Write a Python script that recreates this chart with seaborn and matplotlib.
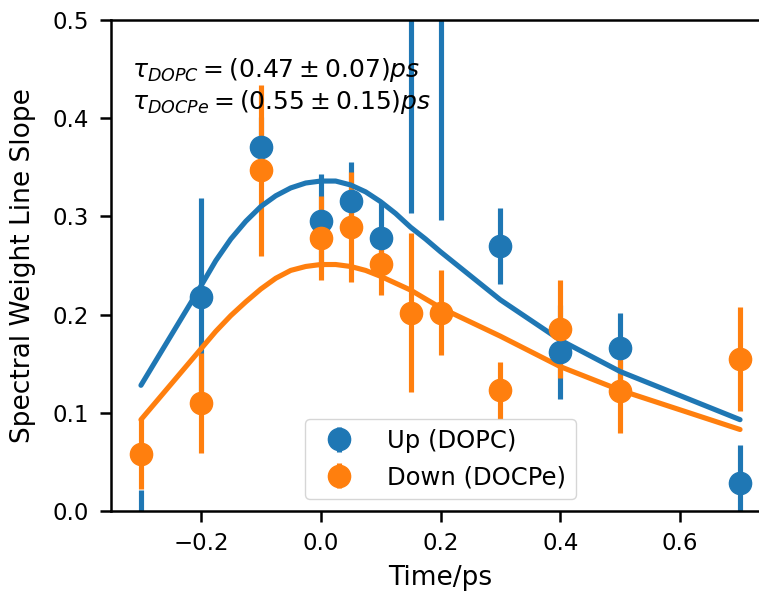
import numpy as np
import pandas as pd
import matplotlib
matplotlib.use("Agg")
import matplotlib.pyplot as plt
import seaborn as sns

# punti misurati
t = [-0.3, -0.2, -0.1, 0.0, 0.05, 0.1, 0.15, 0.2, 0.3, 0.4, 0.5, 0.7]
up = [-0.04, 0.218, 0.371, 0.295, 0.316, 0.278, 0.60, 0.65, 0.270, 0.162, 0.166, 0.029]
up_err = [0.061, 0.101, 0.03, 0.048, 0.039, 0.038, 0.297, 0.354, 0.039, 0.048, 0.036, 0.038]
down = [0.058, 0.110, 0.347, 0.278, 0.289, 0.252, 0.202, 0.202, 0.123, 0.185, 0.122, 0.155]
down_err = [0.036, 0.051, 0.087, 0.043, 0.056, 0.032, 0.081, 0.043, 0.029, 0.050, 0.043, 0.053]

# curve di fit
fit_t = [-0.3, -0.2, -0.175, -0.15, -0.125, -0.1, -0.075, -0.05, -0.025, 0.0,
         0.025, 0.05, 0.075, 0.1, 0.125, 0.15, 0.175, 0.2, 0.3, 0.4, 0.5, 0.7]
fit_up = [0.128, 0.229, 0.255, 0.277, 0.295, 0.310, 0.321, 0.329, 0.334, 0.336,
          0.336, 0.332, 0.325, 0.315, 0.303, 0.289, 0.277, 0.264, 0.215, 0.174, 0.142, 0.093]
fit_down = [0.093, 0.165, 0.183, 0.199, 0.213, 0.226, 0.237, 0.245, 0.249, 0.251,
            0.251, 0.249, 0.245, 0.239, 0.232, 0.225, 0.216, 0.207, 0.178, 0.147, 0.123, 0.083]

tau_up = r"$\tau_{DOPC} = (0.47 \pm 0.07) ps$"
tau_down = r"$\tau_{DOCPe} = (0.55 \pm 0.15) ps$"

sns.set_style("ticks")
plt.rcParams.update({
    "font.family": ["DejaVu Sans"],
    "font.size": 17,
    "text.color": "black",
    "axes.labelcolor": "black",
    "axes.edgecolor": "black",
    "axes.linewidth": 1.8,
    "xtick.color": "black",
    "ytick.color": "black",
    "xtick.major.size": 7.9,
    "ytick.major.size": 7.9,
    "xtick.major.width": 1.8,
    "ytick.major.width": 1.8,
    "xtick.major.pad": 7.5,
    "ytick.major.pad": 8,
    "xtick.labelsize": 16.5,
    "ytick.labelsize": 16.5,
    "axes.labelsize": 19,
    "mathtext.fontset": "dejavusans",
})

blue = "#1f77b4"
orange = "#ff7f0e"

fig = plt.figure(figsize=(7.59, 5.93), dpi=100)
ax = fig.add_axes([111 / 759, 82 / 593, (770 - 111) / 759, (511 - 20) / 593])

ax.errorbar(t, up, yerr=up_err, fmt="o", color=blue, markersize=16,
            elinewidth=3.7, label="Up (DOPC)")
ax.errorbar(t, down, yerr=down_err, fmt="o", color=orange, markersize=16,
            elinewidth=3.7, label="Down (DOCPe)")

df_fit = pd.DataFrame({"t": fit_t, "up": fit_up, "down": fit_down})
sns.lineplot(data=df_fit, x="t", y="up", ax=ax, color=blue, linewidth=3.7, legend=False)
sns.lineplot(data=df_fit, x="t", y="down", ax=ax, color=orange, linewidth=3.7, legend=False)

ax.text(-0.315, 0.442, tau_up, fontsize=18, va="baseline")
ax.text(-0.315, 0.409, tau_down, fontsize=18, va="baseline")

ax.set_xlim(-0.35, 0.75)
ax.set_ylim(0, 0.5)
ax.set_xticks([-0.2, 0.0, 0.2, 0.4, 0.6])
ax.set_yticks([0.0, 0.1, 0.2, 0.3, 0.4, 0.5])
ax.set_xlabel("Time/ps", labelpad=7)
ax.set_ylabel("Spectral Weight Line Slope", labelpad=12)
for s in ["top", "right"]:
    ax.spines[s].set_visible(True)

ax.legend(loc="lower center", fontsize=17.5, handletextpad=1.0)

fig.savefig("out.png", dpi=100)
